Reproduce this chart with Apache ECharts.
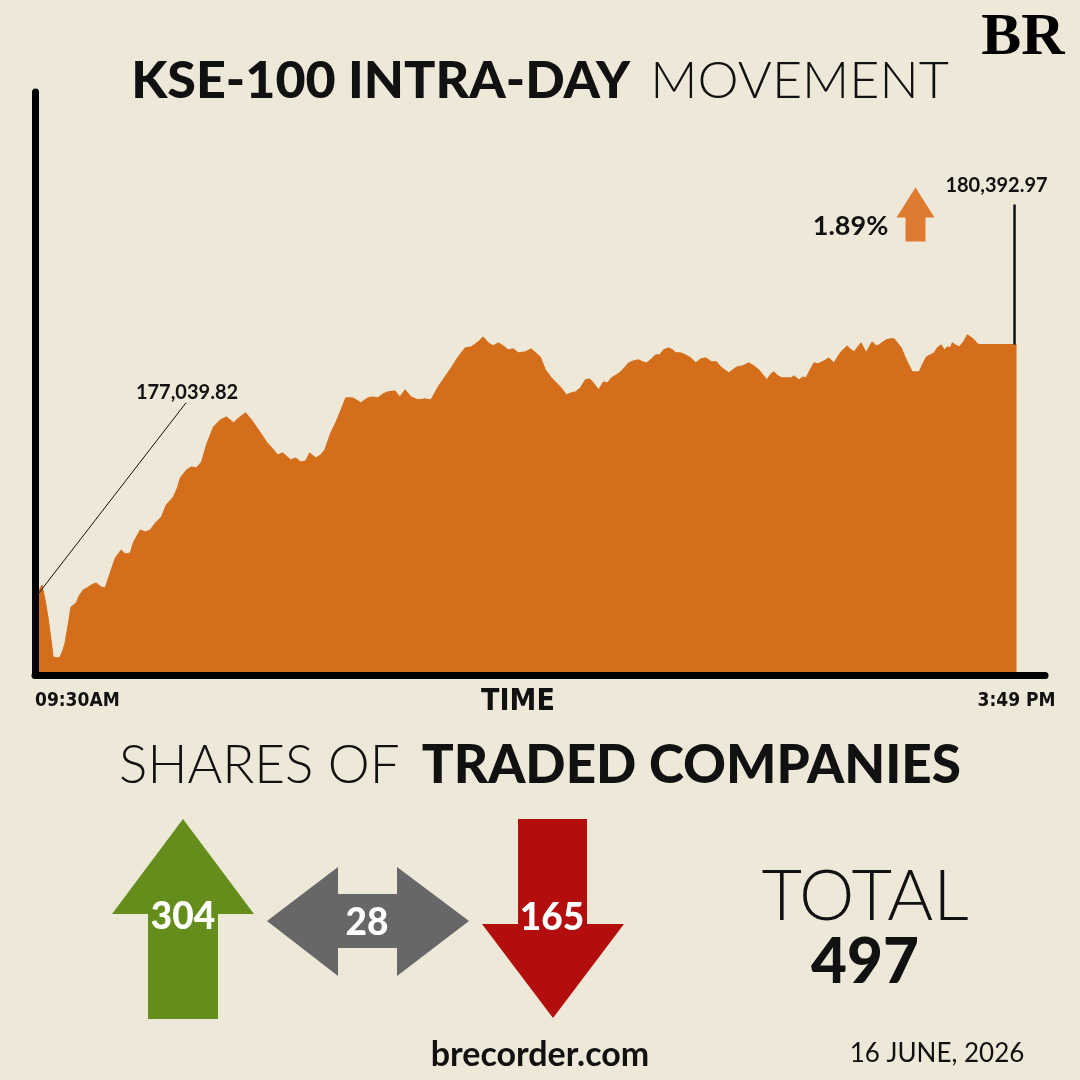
<!DOCTYPE html>
<html><head><meta charset="utf-8">
<script src="https://cdn.jsdelivr.net/npm/echarts@6/dist/echarts.min.js"></script>
<style>html,body{margin:0;padding:0;background:#EEE8D9}#c{width:1080px;height:1080px}</style>
</head><body><div id="c"></div>
<script>
// ---- data ----
const minutesFromOpen = [
0,1.2,2.7,3.9,5.0,6.2,7.0,8.5,9.7,10.8,
11.6,12.8,13.9,15.9,17.0,18.6,20.1,21.7,23.6,25.6,
27.1,29.0,31.0,33.3,34.8,36.8,37.9,40.6,42.6,44.5,
46.5,48.8,50.7,53.4,55.0,56.1,58.5,60.4,62.3,64.3,
66.2,67.7,68.9,71.6,73.9,76.7,78.6,81.3,83.6,85.2,
87.1,89.4,92.1,93.7,95.6,98.7,100.7,102.6,104.5,106.1,
108.4,110.3,111.9,114.2,116.1,117.7,120.0,122.7,124.7,125.8,
128.5,130.5,132.4,134.3,136.3,139.0,140.9,142.9,145.2,147.9,
150.6,152.9,155.6,158.3,160.7,163.4,166.1,168.4,171.1,173.0,
175.0,176.9,178.9,180.8,182.7,184.7,186.6,189.3,191.6,195.1,
197.1,199.4,201.3,202.9,205.2,207.1,208.7,210.6,212.5,214.1,
215.6,217.6,219.5,221.1,222.6,224.5,226.1,227.6,229.2,231.1,
233.1,234.6,236.2,237.7,239.6,241.2,242.7,244.7,246.2,247.4,
249.3,251.2,253.2,255.1,257.1,259.0,261.3,263.2,264.8,266.3,
267.9,269.4,271.0,273.3,275.6,277.6,279.5,281.1,282.6,284.2,
285.3,286.9,288.4,290.3,291.9,293.1,295.0,296.5,297.7,299.3,
300.8,302.3,303.9,305.4,306.6,308.5,309.7,311.2,312.4,313.6,
315.1,316.3,317.4,319.0,320.2,320.9,322.1,323.3,324.8,326.0,
327.5,328.7,330.2,331.8,333.3,334.5,335.6,336.8,338.0,338.7,
340.3,341.4,342.6,344.2,345.7,347.2,348.4,349.9,351.1,352.3,
353.4,354.2,355.4,356.9,358.5,360.0,361.2,362.7,363.9,364.7,
379
];
const kseValues = [
177039.82,177104,177197,176998,176771,176466,176239,176226,176239,176333,
176426,176665,176904,176958,177051,177131,177157,177197,177224,177170,
177157,177357,177556,177663,177609,177623,177756,177929,177902,177929,
178022,178101,178261,178367,178487,178620,178727,178766,178753,178833,
179059,179192,179298,179392,179431,179352,179418,179485,179392,179312,
179219,179099,178993,178926,178953,178860,178886,178833,178846,178953,
178886,178926,178993,179219,179352,179485,179684,179684,179644,179618,
179684,179697,179684,179737,179764,179777,179697,179791,179697,179658,
179671,179658,179830,179963,180083,180229,180349,180362,180429,180495,
180416,180376,180416,180376,180323,180336,180283,180296,180336,180229,
180057,179950,179884,179830,179724,179751,179764,179817,179924,179937,
179884,179791,179897,179884,179950,179990,180030,180083,180150,180176,
180190,180163,180150,180190,180256,180256,180323,180349,180323,180283,
180283,180256,180216,180150,180203,180216,180163,180163,180096,180057,
180017,180057,180096,180110,180150,180110,180057,179990,179924,180003,
180030,179977,179950,179950,179950,179977,179924,179963,179950,180057,
180150,180136,180163,180190,180216,180150,180216,180296,180336,180376,
180323,180296,180349,180416,180336,180283,180362,180429,180376,180389,
180429,180456,180469,180469,180402,180349,180256,180163,180083,180030,
180030,180030,180123,180229,180256,180283,180349,180389,180323,180362,
180349,180416,180389,180362,180429,180522,180495,180456,180402,180393,
180392.97
];
const xTickMinutes = [0, 379];
const xTickLabels = ['09:30AM', '3:49 PM'];
const openLabel = '177,039.82';
const closeLabel = '180,392.97';
const changePct = '1.89%';
const breadthValues = [304, 28, 165];   // advanced, unchanged, declined
const totalCompanies = 497;
const siteText = 'brecorder.com';
const dateText = '16 JUNE, 2026';

// ---- chart ----
const BG = '#EEE8D9';
const ORANGE = '#D46E1A';
const SANS = "Lato, 'Open Sans', sans-serif";
const NARROW = "'Liberation Sans Narrow', 'DejaVu Sans Condensed', sans-serif";
const chart = echarts.init(document.getElementById('c'));
chart.setOption({
  backgroundColor: BG,
  animation: false,
  title: [{
    text: '{b|KSE-100 INTRA-DAY}{s| }{t|MOVEMENT}',
    left: 'center', top: 50,
    textStyle: { rich: {
      b: { fontFamily: SANS, fontWeight: 900, fontSize: 52, color: '#111' },
      s: { fontFamily: SANS, fontSize: 52, width: 20 },
      t: { fontFamily: SANS, fontWeight: 300, fontSize: 52, color: '#111' }
    } }
  }, {
    text: '{t|SHARES OF}{s| }{b|TRADED COMPANIES}',
    left: 'center', top: 734,
    textStyle: { rich: {
      b: { fontFamily: SANS, fontWeight: 900, fontSize: 53, color: '#111' },
      s: { fontFamily: SANS, fontSize: 53, width: 22 },
      t: { fontFamily: SANS, fontWeight: 300, fontSize: 53, color: '#111' }
    } }
  }],
  grid: { left: 35, right: 35, top: 92, bottom: 405, containLabel: false },
  xAxis: {
    type: 'value', min: 0, max: 390, z: 10,
    axisLine: { show: true, onZero: false, lineStyle: { color: '#000', width: 7, cap: 'round' } },
    axisTick: { show: false }, splitLine: { show: false },
    axisLabel: {
      customValues: xTickMinutes,
      formatter: v => { const i = xTickMinutes.indexOf(v); return i >= 0 ? xTickLabels[i] : ''; },
      alignMinLabel: 'left',
      margin: 17, color: '#111', fontFamily: NARROW, fontWeight: 'bold', fontSize: 19
    },
    name: 'TIME', nameLocation: 'middle', nameGap: 12, nameMoveOverlap: false,
    nameTextStyle: { color: '#111', fontFamily: NARROW, fontWeight: 'bold', fontSize: 30, padding: [0, 44, 0, 0], verticalAlign: 'top' }
  },
  yAxis: {
    type: 'value', min: 176000, max: 183750, z: 10,
    axisLine: { show: true, lineStyle: { color: '#000', width: 7, cap: 'round' } },
    axisTick: { show: false }, splitLine: { show: false }, axisLabel: { show: false }
  },
  series: [{
    type: 'line',
    data: minutesFromOpen.map((m, i) => [m, kseValues[i]]),
    showSymbol: false,
    lineStyle: { color: ORANGE, width: 1 },
    areaStyle: { color: ORANGE, opacity: 1, origin: 'start' }
  }]
});

const pOpen = chart.convertToPixel({ gridIndex: 0 }, [minutesFromOpen[0], kseValues[0]]);
const li = minutesFromOpen.length - 1;
const pClose = chart.convertToPixel({ gridIndex: 0 }, [minutesFromOpen[li], kseValues[li]]);
const cx = pClose[0], cy = pClose[1];

const txt = (x, y, text, size, weight, color, family, align) => ({
  type: 'text', x, y, z: 20,
  style: { text, fontSize: size, fontWeight: weight, fill: color || '#111', fontFamily: family || SANS,
           align: align || 'center', verticalAlign: 'middle' }
});

chart.setOption({
  graphic: [
    // logo
    txt(1023, 38, 'BR', 60, 'bold', '#000', "'Liberation Serif', 'DejaVu Serif', serif"),
    // open annotation
    { type: 'line', z: 20, shape: { x1: pOpen[0] + 1, y1: pOpen[1], x2: pOpen[0] + 151, y2: pOpen[1] - 194 },
      style: { stroke: '#111', lineWidth: 1 } },
    txt(pOpen[0] + 152, pOpen[1] - 204, openLabel, 20, 'bold'),
    // close annotation
    { type: 'line', z: 20, shape: { x1: cx - 2, y1: cy, x2: cx - 2, y2: cy - 140 },
      style: { stroke: '#111', lineWidth: 2.5 } },
    txt(cx - 20, cy - 159, closeLabel, 20, 'bold'),
    txt(cx - 166, cy - 118, changePct, 27, 'bold'),
    { type: 'polygon', z: 20, shape: { points: [
        [cx - 101, cy - 157], [cx - 82, cy - 127], [cx - 91, cy - 127], [cx - 91, cy - 103],
        [cx - 111, cy - 103], [cx - 111, cy - 127], [cx - 120, cy - 127]] },
      style: { fill: '#DF7B30' } },
    // breadth arrows
    { type: 'polygon', shape: { points: [[183,819],[254,914],[218,914],[218,1019],[148,1019],[148,914],[112,914]] },
      style: { fill: '#658D1C' } },
    { type: 'polygon', shape: { points: [[267,921],[338,867],[338,894],[397,894],[397,867],[469,921],[397,976],[397,948],[338,948],[338,976]] },
      style: { fill: '#676767' } },
    { type: 'polygon', shape: { points: [[518,819],[587,819],[587,924],[624,924],[553,1018],[482,924],[518,924]] },
      style: { fill: '#B30D0E' } },
    txt(183, 917, String(breadthValues[0]), 37, 900, '#fff'),
    txt(367, 923, String(breadthValues[1]), 37, 900, '#fff'),
    txt(552, 918, String(breadthValues[2]), 37, 900, '#fff'),
    // total
    txt(865, 897, 'TOTAL', 70, 300),
    txt(865, 963, String(totalCompanies), 62, 900),
    // footer
    txt(540, 1055, siteText, 34, 'bold'),
    txt(937, 1054, dateText, 26, 'normal')
  ]
});
</script>
</body></html>
